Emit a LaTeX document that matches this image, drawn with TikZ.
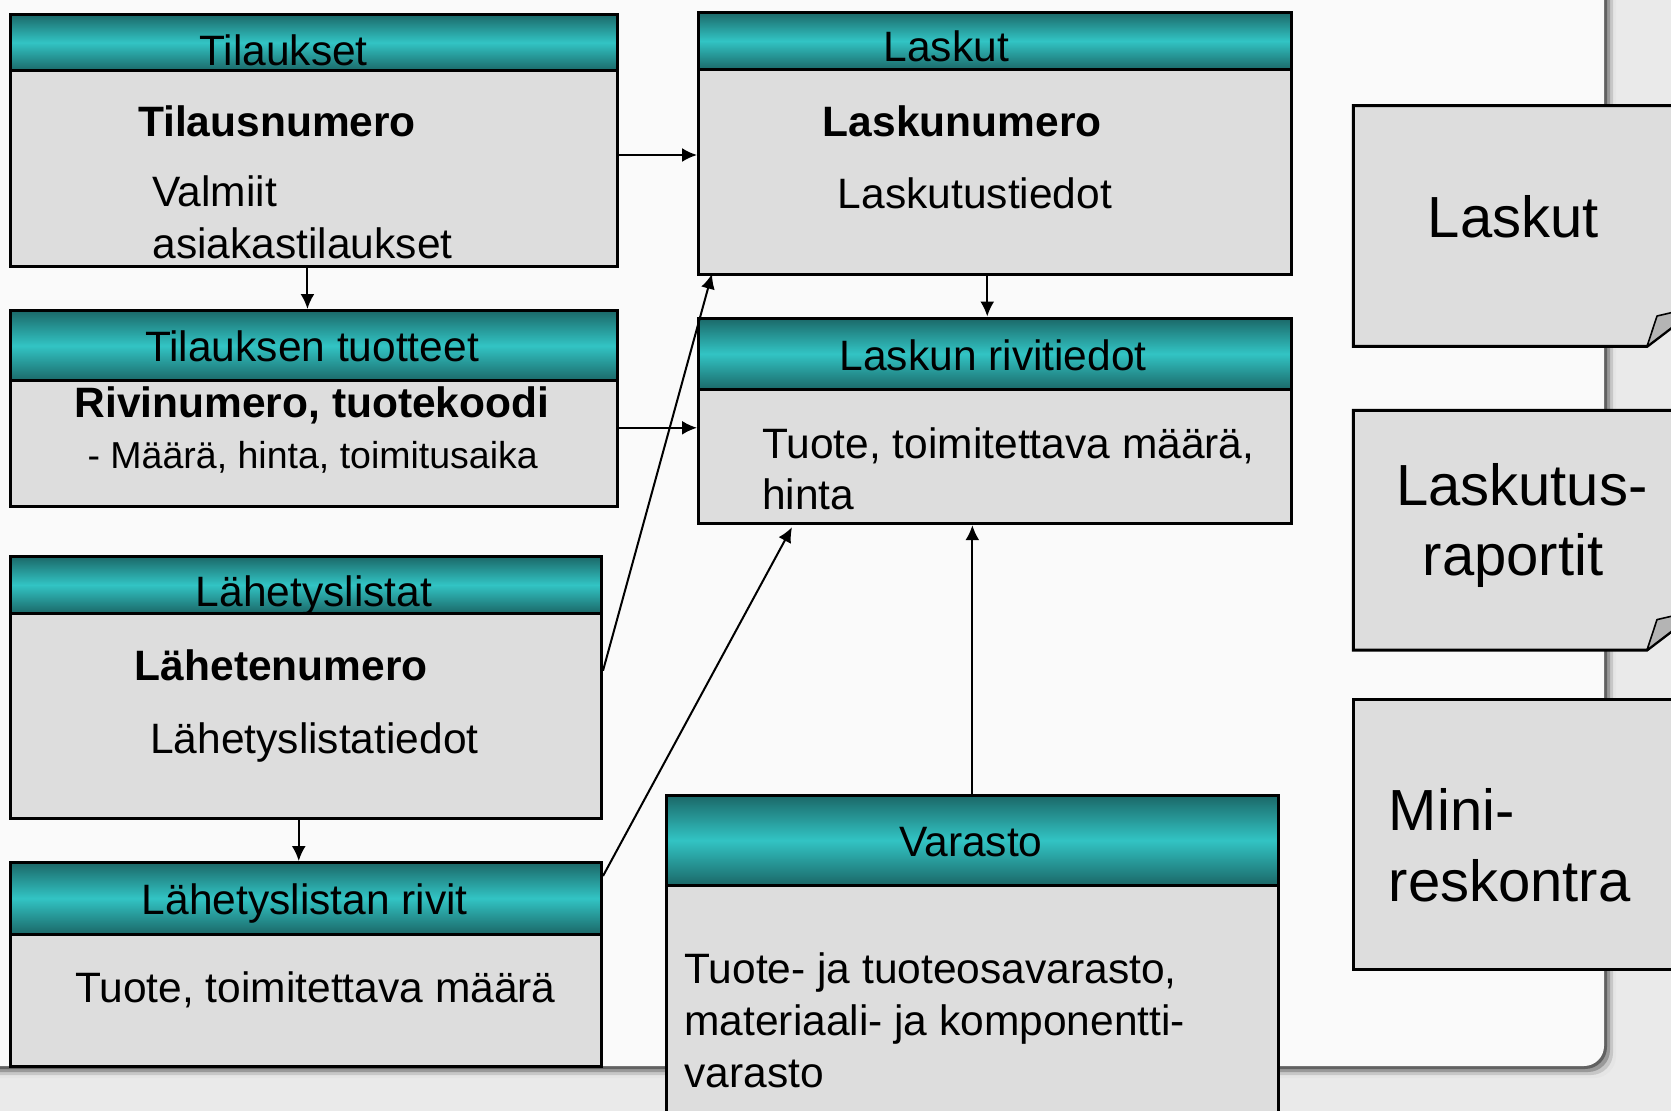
\documentclass[tikz,border=0pt]{standalone}
\usepackage{fontspec}
\setmainfont{Liberation Sans}
\usetikzlibrary{arrows.meta,calc}

\definecolor{tealdark}{RGB}{27,104,104}
\definecolor{tealmid}{RGB}{50,196,196}
\definecolor{boxgray}{RGB}{221,221,221}
\definecolor{flapgray}{RGB}{180,180,180}
\definecolor{slide}{RGB}{250,250,250}
\definecolor{stone}{RGB}{234,234,234}

\tikzset{
  tbl/.style={rectangle,draw,line width=3pt,fill=boxgray,anchor=north west,inner sep=0pt},
  hdr/.style={rectangle,draw,line width=3pt,anchor=north west,inner sep=0pt,
    top color=tealdark,bottom color=tealdark,middle color=tealmid},
  ttl/.style={anchor=base,inner sep=0pt,font=\fontsize{42.5}{51}\selectfont},
  key/.style={anchor=base,inner sep=0pt,font=\bfseries\fontsize{42.5}{51}\selectfont},
  txt/.style={anchor=base west,inner sep=0pt,font=\fontsize{42.5}{51}\selectfont},
  big/.style={inner sep=0pt,font=\fontsize{58}{69}\selectfont},
  doc/.style={draw,line width=3pt,fill=boxgray,line join=miter},
  arr/.style={-{Latex[length=15pt,width=14pt]},line width=2pt}
}

\begin{document}
\begin{tikzpicture}[x=1pt,y=-1pt]
    \clip (0,0) rectangle (1671,1111);
    % slide background
    \fill[stone] (0,0) rectangle (1671,1111);
    \foreach \d/\c in {12/10,9/22,6/40,3/62}
      \fill[black!\c,rounded corners=22pt] (-40,-40) rectangle (1604+\d,1066+\d);
    \fill[slide,rounded corners=20pt] (-40,-40) rectangle (1604,1066);

    % tables
    \node[tbl,minimum width=607.5pt,minimum height=252.6pt] (tilaukset) at (8.5,12.8) {};
    \node[hdr,minimum width=607.5pt,minimum height=56.5pt] (tilauksetH) at (8.5,12.8) {};
    \node[ttl] (tilauksetT) at (283.5,65) {Tilaukset};
    \node[key] (tilausnro) at (277,136.4) {Tilausnumero};
    \node[txt] (valmiit1) at (152.4,206.7) {Valmiit};
    \node[txt] (valmiit2) at (152.4,258) {asiakastilaukset};

    \node[tbl,minimum width=607.5pt,minimum height=196pt] (tuotteet) at (8.5,309) {};
    \node[hdr,minimum width=607.5pt,minimum height=70.4pt] (tuotteetH) at (8.5,309) {};
    \node[ttl] (tuotteetT) at (312,361) {Tilauksen tuotteet};
    \node[key] (rivinro) at (312,417.8) {Rivinumero, tuotekoodi};
    \node[txt,font=\fontsize{37.5}{44}\selectfont] (maara) at (87.4,468.4) {- Määrä, hinta, toimitusaika};

    \node[tbl,minimum width=591.5pt,minimum height=262.4pt] (lahetys) at (8.5,555) {};
    \node[hdr,minimum width=591.5pt,minimum height=56.7pt] (lahetysH) at (8.5,555) {};
    \node[ttl] (lahetysT) at (314,606.4) {Lähetyslistat};
    \node[key] (lahetenro) at (281.3,680) {Lähetenumero};
    \node[ttl] (lahetystied) at (314.4,753.4) {Lähetyslistatiedot};

    \node[tbl,minimum width=591.5pt,minimum height=203.6pt] (rivit) at (8.5,861) {};
    \node[hdr,minimum width=591.5pt,minimum height=71.5pt] (rivitH) at (8.5,861) {};
    \node[ttl] (rivitT) at (304.8,914.4) {Lähetyslistan rivit};
    \node[ttl] (rivittxt) at (315.4,1002.8) {Tuote, toimitettava määrä};

    \node[tbl,minimum width=592.5pt,minimum height=262.1pt] (laskut) at (697,10.7) {};
    \node[hdr,minimum width=592.5pt,minimum height=57.5pt] (laskutH) at (697,10.7) {};
    \node[ttl] (laskutT) at (946.3,61.8) {Laskut};
    \node[key] (laskunro) at (962.3,136.4) {Laskunumero};
    \node[ttl] (laskutustied) at (975,208.9) {Laskutustiedot};

    \node[tbl,minimum width=592.5pt,minimum height=205.7pt] (rivitiedot) at (697,316.5) {};
    \node[hdr,minimum width=592.5pt,minimum height=71.5pt] (rivitiedotH) at (697,316.5) {};
    \node[ttl] (rivitiedotT) at (993.2,370.9) {Laskun rivitiedot};
    \node[txt] (rivitiedot1) at (762,458.3) {Tuote, toimitettava määrä,};
    \node[txt] (rivitiedot2) at (762,509.4) {hinta};

    \node[tbl,minimum width=611.7pt,minimum height=360pt] (varasto) at (665,794) {};
    \node[hdr,minimum width=611.7pt,minimum height=89.5pt] (varastoH) at (665,794) {};
    \node[ttl] (varastoT) at (970.9,856.8) {Varasto};
    \node[txt] (varasto1) at (684.2,983.6) {Tuote- ja tuoteosavarasto,};
    \node[txt] (varasto2) at (684.2,1035.9) {materiaali- ja komponentti-};
    \node[txt] (varasto3) at (684.2,1087) {varasto};

    % documents on the right
    \draw[doc] (1353.4,105.5) -- (1700,105.5) -- (1700,306) -- (1647,346.4) -- (1353.4,346.4) -- cycle;
    \draw[line width=1.6pt,fill=flapgray,line join=round] (1647,346.4) -- (1657,316) -- (1700,306) -- cycle;
    \node[big,anchor=base] (laskutDoc) at (1513.3,237) {Laskut};

    \draw[doc] (1353.4,410.3) -- (1700,410.3) -- (1700,609.6) -- (1647,650) -- (1353.4,650) -- cycle;
    \draw[line width=1.6pt,fill=flapgray,line join=round] (1647,650) -- (1657,619.6) -- (1700,609.6) -- cycle;
    \node[big,anchor=base] (raportit1) at (1521.8,505.7) {Laskutus-};
    \node[big,anchor=base] (raportit2) at (1513,575.5) {raportit};

    \draw[doc] (1353.4,699) rectangle (1700,969.8);
    \node[big,anchor=base west] (mini1) at (1388.6,830.7) {Mini-};
    \node[big,anchor=base west] (mini2) at (1388.6,901.6) {reskontra};

    % connectors
    \draw[arr] ([yshift=-14.4pt]tilaukset.east) -- ([yshift=-14.4pt]tilaukset.east -| laskut.west);
    \draw[arr] ([xshift=-6.3pt]tilaukset.south) -- ([xshift=-6.3pt]tilaukset.south |- tuotteet.north);
    \draw[arr] ([yshift=-19.3pt]tuotteet.east) -- ([yshift=-19.3pt]tuotteet.east -| rivitiedot.west);
    \draw[arr] ([xshift=-7.5pt]laskut.south) -- ([xshift=-7.5pt]laskut.south |- rivitiedot.north);
    \draw[arr] ([yshift=17pt]lahetys.east) -- ([xshift=15pt,yshift=2pt]laskut.south west);
    \draw[arr] ([xshift=-7pt]lahetys.south) -- ([xshift=-7pt]lahetys.south |- rivit.north);
    \draw[arr] ([yshift=-15pt]rivit.north east) -- ([xshift=95pt,yshift=-2pt]rivitiedot.south west);
    \draw[arr] (varasto.north) -- (varasto.north |- rivitiedot.south);
\end{tikzpicture}
\end{document}
